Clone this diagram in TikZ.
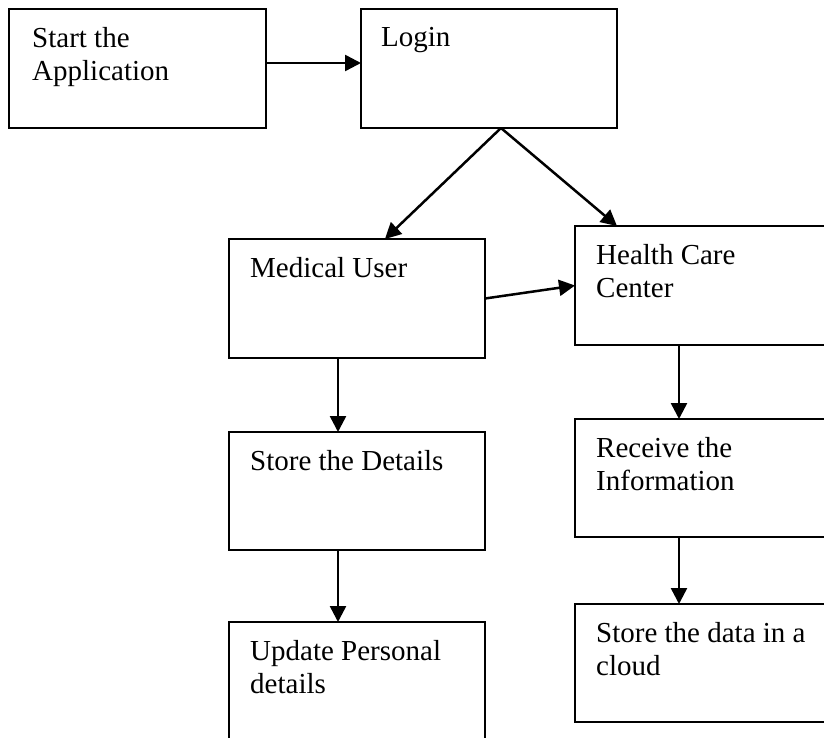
\documentclass[tikz,border=0pt]{standalone}
\usepackage{fontspec}
\setmainfont{Liberation Serif}
\usetikzlibrary{arrows.meta,calc}
\begin{document}
\begin{tikzpicture}[x=1pt,y=-1pt,
  box/.style={draw, line width=1.8pt, anchor=north west, inner sep=0pt, outer sep=0pt},
  lbl/.style={anchor=north west, inner sep=0pt, align=left, font=\fontsize{29}{33}\selectfont},
  arr/.style={line width=2.5pt, -{Triangle[length=16pt,width=16pt]}}]
\useasboundingbox (0,0) rectangle (824,738);
\clip (0,0) rectangle (824,738);
% boxes
\node[box, minimum width=257pt, minimum height=119pt] (start) at (9,9) {};
\node[box, minimum width=256pt, minimum height=119pt] (login) at (361,9) {};
\node[box, minimum width=256pt, minimum height=119pt] (med) at (229,239) {};
\node[box, minimum width=270pt, minimum height=119pt] (health) at (575,226) {};
\node[box, minimum width=256pt, minimum height=118pt] (details) at (229,432) {};
\node[box, minimum width=270pt, minimum height=118pt] (recv) at (575,419) {};
\node[box, minimum width=256pt, minimum height=130pt] (update) at (229,622) {};
\node[box, minimum width=270pt, minimum height=118pt] (cloud) at (575,604) {};
% texts
\node[lbl] (startT) at (32,27) {Start the\\Application};
\node[lbl] (loginT) at (381,27) {Login};
\node[lbl] (medT) at (250,257) {Medical User};
\node[lbl] (healthT) at (596,244) {Health Care\\Center};
\node[lbl] (detT) at (250,450) {Store the Details};
\node[lbl] (recvT) at (596,437) {Receive the\\Information};
\node[lbl] (updT) at (250,640) {Update Personal\\details};
\node[lbl] (cloudT) at (596,622) {Store the data in a\\cloud};
% connectors
\draw[arr] ($(start.east)+(0,-5.5)$) -- ($(login.west)+(0,-5.5)$);
\draw[arr] ($(login.south)+(12,0)$) -- ($(med.north)+(28,0)$);
\draw[arr] ($(login.south)+(12,0)$) -- ($(health.north west)+(42,0)$);
\draw[arr] (med.east) -- (health.west);
\draw[arr] ($(med.south)+(-19,0)$) -- ($(details.north)+(-19,0)$);
\draw[arr] ($(details.south)+(-19,0)$) -- ($(update.north)+(-19,0)$);
\draw[arr] ($(health.south west)+(104,0)$) -- ($(recv.north west)+(104,0)$);
\draw[arr] ($(recv.south west)+(104,0)$) -- ($(cloud.north west)+(104,0)$);
\end{tikzpicture}
\end{document}
